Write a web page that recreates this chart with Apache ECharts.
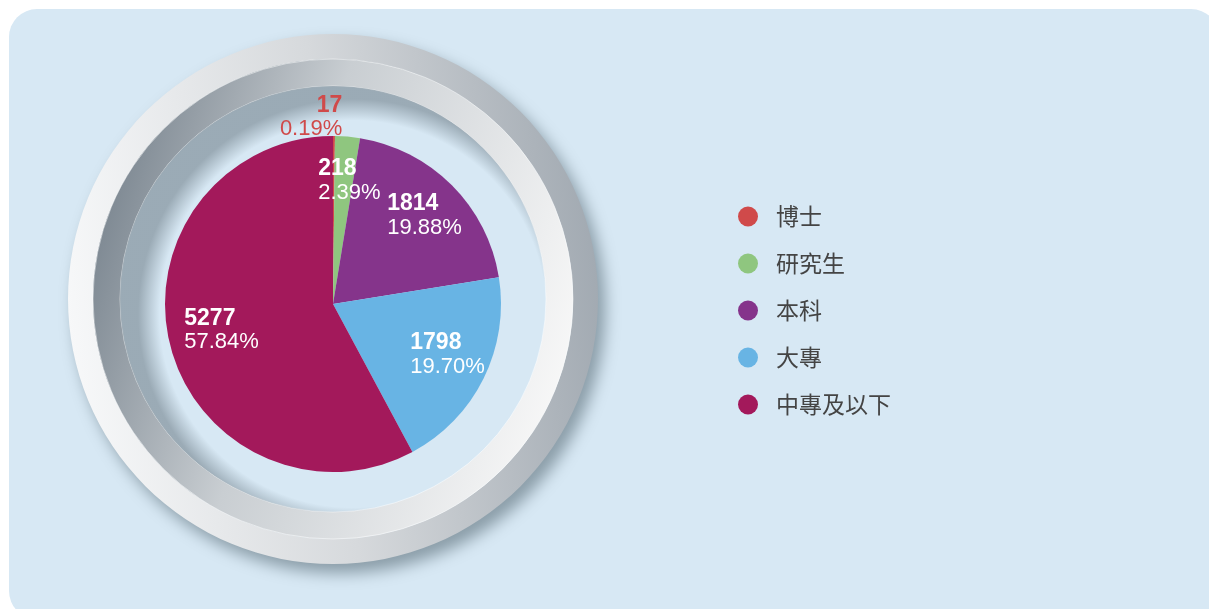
<!DOCTYPE html>
<html>
<head>
<meta charset="utf-8">
<script src="https://cdn.jsdelivr.net/npm/echarts@6/dist/echarts.min.js"></script>
<style>
  html, body { margin: 0; padding: 0; background: #fff; }
  #main { width: 1209px; height: 609px; }
</style>
</head>
<body>
<div id="main"></div>
<script>
var names = ['博士', '研究生', '本科', '大專', '中專及以下'];
var values = [17, 218, 1814, 1798, 5277];
var colors = ['#d04a4a', '#8fc67f', '#85348b', '#68b4e4', '#a3195b'];

var myChart = echarts.init(document.getElementById('main'));

// pie centre / radius, ring centre
var cx = 333, cy = 304, pr = 168;
var rx = 333, ry = 299;

var pieData = names.map(function (n, i) {
  var item = { name: n, value: values[i], itemStyle: { color: colors[i] } };
  if (i === 0) {
    item.label = {
      color: colors[0],
      rich: {
        a: { fontSize: 23, fontWeight: 'bold', lineHeight: 24, align: 'right' },
        b: { fontSize: 22, lineHeight: 24, align: 'right' }
      }
    };
  }
  return item;
});

var option = {
  graphic: [
    {
      type: 'rect', z: -10,
      shape: { x: 9, y: 9, width: 1210, height: 610, r: 28 },
      style: { fill: '#d7e8f4' }
    },
    {
      // outer bevel
      type: 'ring', z: -5,
      shape: { cx: rx, cy: ry, r: 265, r0: 240 },
      style: {
        fill: new echarts.graphic.LinearGradient(0, 0.55, 1, 0.45, [
          { offset: 0, color: '#f7f8f9' },
          { offset: 0.5, color: '#d6d9dc' },
          { offset: 1, color: '#a2aab2' }
        ]),
        shadowBlur: 16,
        shadowOffsetX: 7,
        shadowOffsetY: 9,
        shadowColor: 'rgba(40,60,70,0.45)'
      }
    },
    {
      // inner bevel
      type: 'ring', z: -4,
      shape: { cx: rx, cy: ry, r: 240, r0: 213 },
      style: {
        fill: new echarts.graphic.LinearGradient(0, 0.35, 1, 0.65, [
          { offset: 0, color: '#7c8791' },
          { offset: 0.4, color: '#c9ced2' },
          { offset: 1, color: '#f8f8f8' }
        ]),
        stroke: 'rgba(255,255,255,0.5)',
        lineWidth: 1
      }
    },
    {
      // inner shadow
      type: 'ring', z: -4,
      shape: { cx: rx, cy: ry, r: 213, r0: 150 },
      style: {
        fill: new echarts.graphic.RadialGradient(rx + 20, ry + 15, 215, [
          { offset: 0.9, color: 'rgba(95,110,120,0)' },
          { offset: 1, color: 'rgba(95,110,120,0.5)' }
        ], true)
      }
    }
  ],
  legend: {
    orient: 'vertical',
    left: 733,
    top: 200,
    icon: 'circle',
    itemWidth: 20,
    itemHeight: 20,
    itemGap: 24,
    data: names,
    textStyle: {
      fontFamily: 'Noto Sans CJK TC',
      fontSize: 23,
      lineHeight: 20,
      color: '#444',
      padding: [0, 0, 0, 13]
    }
  },
  series: [
    {
      name: '學歷',
      type: 'pie',
      center: [cx, cy],
      radius: pr,
      startAngle: 90,
      clockwise: true,
      silent: true,
      label: {
        show: true,
        position: 'inside',
        color: '#fff',
        fontFamily: 'Liberation Sans',
        formatter: function (p) {
          return '{a|' + p.value + '}\n{b|' + p.percent.toFixed(2) + '%}';
        },
        rich: {
          a: { fontSize: 23, fontWeight: 'bold', lineHeight: 24, align: 'left' },
          b: { fontSize: 22, lineHeight: 24, align: 'left' }
        }
      },
      labelLine: { show: false },
      labelLayout: function (p) {
        var lx = p.labelRect.x + p.labelRect.width / 2;
        var ly = p.labelRect.y + p.labelRect.height / 2;
        var d = Math.sqrt((lx - cx) * (lx - cx) + (ly - cy) * (ly - cy)) || 1;
        var target = p.dataIndex === 0 ? 184 : 121;
        return {
          dx: (lx - cx) * (target / d - 1) + (p.dataIndex === 0 ? -23 : 6),
          dy: (ly - cy) * (target / d - 1) - 3
        };
      },
      data: pieData
    }
  ]
};
myChart.setOption(option);
</script>
</body>
</html>
